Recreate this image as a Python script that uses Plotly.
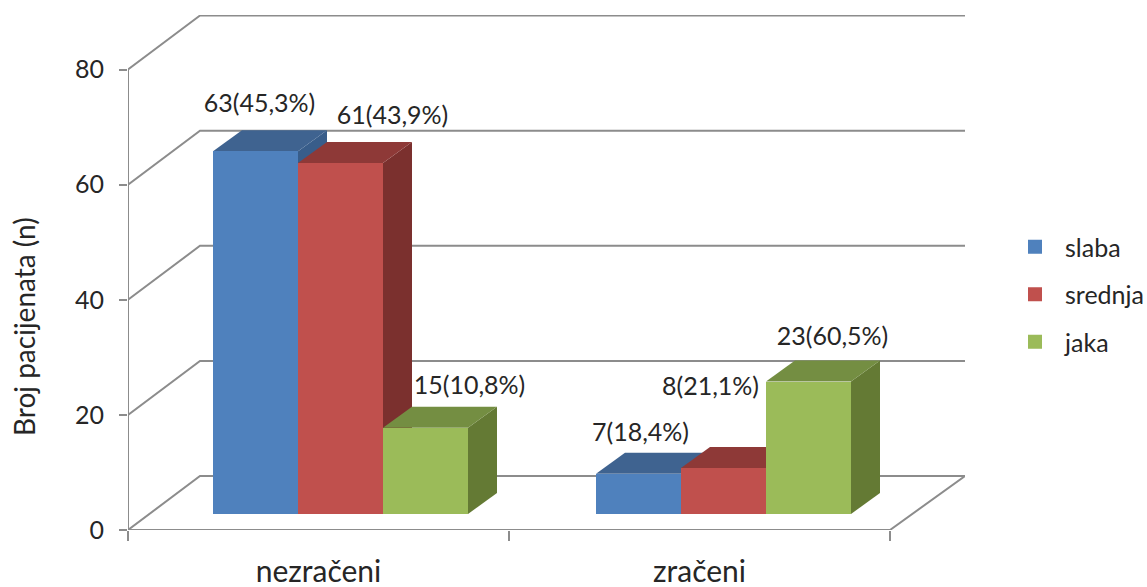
import plotly.graph_objects as go

categories = ["nezračeni", "zračeni"]
series_names = ["slaba", "srednja", "jaka"]
slaba = [63, 7]
srednja = [61, 8]
jaka = [15, 23]
labels_slaba = ["63(45,3%)", "7(18,4%)"]
labels_srednja = ["61(43,9%)", "8(21,1%)"]
labels_jaka = ["15(10,8%)", "23(60,5%)"]
y_ticks = [0, 20, 40, 60, 80]

W, H = 1147, 587
L, R, T, B = 128, 965, 15, 530
PX_X = 381.0
PX_Y = 5.756
GRAY = "#8c8c8c"
FONT = "Lato"
TXT = "#262626"

front_colors = ["#4F81BD", "#C0504D", "#9BBB59"]
top_colors = ["#3F6390", "#8E3937", "#748E42"]
side_colors = ["#385D8A", "#7B302E", "#647A34"]

bar_w = 85 / PX_X
group_step = 383 / PX_X
x_shift = 22 / PX_X
base = 16 / PX_Y
ddx = 29 / PX_X
ddy = 21 / PX_Y
wall_dx = 72 / PX_X
wall_dx_right = 75 / PX_X
wall_dy = 54 / PX_Y

series = [slaba, srednja, jaka]
texts = [labels_slaba, labels_srednja, labels_jaka]
# label offsets from the top-front centre of each bar, in pixels (dx, dy up)
offsets = [[(4, 46), (2, 39)], [(52, 45), (-13, 79)], [(44, 40), (24, 43)]]


def bar_center(c, s):
    return 0.5 + c * group_step + x_shift + (s - 1) * bar_w


fig = go.Figure()

# walls, floor and axis lines
gx, gy = [], []
for t in y_ticks:
    gx += [0, wall_dx, 2 + wall_dx_right, None]
    gy += [t, t + wall_dy, t + wall_dy, None]
gx += [0, 2, 2 + wall_dx_right, None, 0, 0]
gy += [0, 0, wall_dy, None, 0, 80]
fig.add_trace(go.Scatter(x=gx, y=gy, mode="lines", line=dict(color=GRAY, width=2),
                         showlegend=False, hoverinfo="skip", cliponaxis=False, zorder=0))

# side and top faces
for s, vals in enumerate(series):
    for c, v in enumerate(vals):
        x0 = bar_center(c, s) - bar_w / 2
        x1 = x0 + bar_w
        top = base + v
        fig.add_trace(go.Scatter(
            x=[x1, x1 + ddx, x1 + ddx, x1, x1], y=[base, base + ddy, top + ddy, top, base],
            mode="lines", fill="toself", fillcolor=side_colors[s], line=dict(width=0),
            showlegend=False, hoverinfo="skip", zorder=1))
        fig.add_trace(go.Scatter(
            x=[x0, x1, x1 + ddx, x0 + ddx, x0], y=[top, top, top + ddy, top + ddy, top],
            mode="lines", fill="toself", fillcolor=top_colors[s], line=dict(width=0),
            showlegend=False, hoverinfo="skip", zorder=1))

# front faces
for s, vals in enumerate(series):
    fig.add_trace(go.Bar(
        x=[bar_center(c, s) for c in range(len(categories))],
        y=vals, base=[base] * len(vals), width=bar_w, name=series_names[s],
        marker=dict(color=front_colors[s], line=dict(width=0)),
        showlegend=False, zorder=2))

# legend entries, with a slightly larger swatch than the default
for s, name in enumerate(series_names):
    fig.add_trace(go.Bar(
        x=[None], y=[None], name=name, legendgroup=name,
        marker=dict(color=front_colors[s], line=dict(width=2, color=front_colors[s])),
        hoverinfo="skip", zorder=2))

# data labels
for s, vals in enumerate(series):
    xs = [bar_center(c, s) + offsets[s][c][0] / PX_X for c in range(len(vals))]
    ys = [base + v + offsets[s][c][1] / PX_Y for c, v in enumerate(vals)]
    fig.add_trace(go.Scatter(x=xs, y=ys, mode="text", text=texts[s], textposition="middle center",
                             textfont=dict(family=FONT, size=25, color=TXT),
                             showlegend=False, hoverinfo="skip", cliponaxis=False, zorder=3))

fig.add_annotation(text="Broj pacijenata (n)", textangle=-90, xref="paper", yref="paper",
                   x=(24 - L) / (R - L), y=(B - 327) / (B - T), xanchor="center", yanchor="middle",
                   showarrow=False, font=dict(family=FONT, size=28, color=TXT))

fig.update_layout(
    width=W, height=H, margin=dict(l=L, r=W - R, t=T, b=H - B, pad=0, autoexpand=False),
    paper_bgcolor="white", plot_bgcolor="white", barmode="overlay", bargap=0,
    font=dict(family=FONT, color=TXT),
    xaxis=dict(range=[0, (R - L) / PX_X], tickvals=[0.5, 1.5], ticktext=categories,
               ticks="", showgrid=False, zeroline=False, showline=False,
               tickfont=dict(family=FONT, size=30, color=TXT), ticklabelstandoff=21,
               minor=dict(tickvals=[0, 1, 2], ticks="outside", ticklen=10, tickwidth=2, tickcolor=GRAY, showgrid=False)),
    yaxis=dict(range=[0, (B - T) / PX_Y], tickvals=y_ticks, ticks="outside", ticklen=8, tickwidth=2,
               tickcolor=GRAY, showgrid=False, zeroline=False, showline=False,
               tickfont=dict(family=FONT, size=25, color=TXT), ticklabelstandoff=10),
    legend=dict(x=(1005 - L) / (R - L), xanchor="left", y=(B - 224) / (B - T), yanchor="top",
                font=dict(family=FONT, size=25, color=TXT), tracegroupgap=12, itemwidth=50,
                bgcolor="rgba(0,0,0,0)", itemclick=False, itemdoubleclick=False),
    showlegend=True,
)

fig.write_html("out.html", post_script="document.body.style.margin='0';", config=dict(displayModeBar=False))
